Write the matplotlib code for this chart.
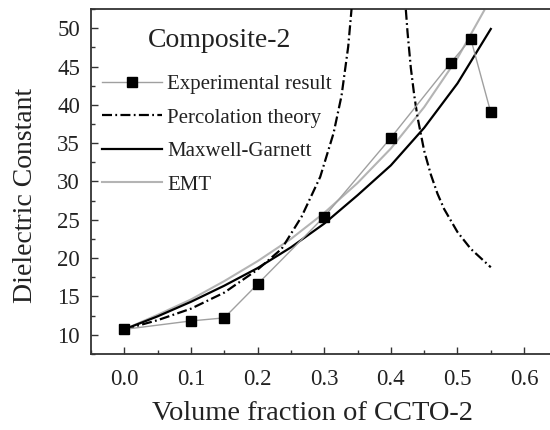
import numpy as np
import matplotlib
matplotlib.use("Agg")
import matplotlib.pyplot as plt
from matplotlib.ticker import MultipleLocator

plt.rcParams['font.family'] = ['Liberation Serif', 'DejaVu Serif']

# Measured dielectric constant vs. CCTO-2 volume fraction
f_exp = [0.0, 0.10, 0.15, 0.20, 0.30, 0.40, 0.49, 0.52, 0.55]
eps_exp = [10.7, 11.8, 12.2, 16.6, 25.4, 35.7, 45.5, 48.6, 39.0]

# Percolation theory, below and above the threshold
f_perc_lo = [0.0, 0.05, 0.10, 0.15, 0.20, 0.236, 0.266, 0.294, 0.314, 0.326, 0.336, 0.341]
eps_perc_lo = [10.7, 11.9, 13.4, 15.5, 18.5, 21.2, 25.4, 30.6, 36.3, 41.2, 47.6, 52.5]
f_perc_hi = [0.4225, 0.425, 0.43, 0.435, 0.44, 0.45, 0.46, 0.47, 0.48, 0.49, 0.50, 0.52, 0.55]
eps_perc_hi = [52.4, 49.5, 44.8, 41.3, 38.4, 34.0, 30.9, 28.4, 26.4, 24.9, 23.4, 21.2, 18.8]

# Maxwell-Garnett model
f_mg = [0.0, 0.05, 0.10, 0.15, 0.20, 0.25, 0.30, 0.35, 0.40, 0.45, 0.50, 0.55]
eps_mg = [10.7, 12.4, 14.3, 16.4, 18.7, 21.4, 24.5, 28.2, 32.1, 37.0, 42.8, 49.9]

# EMT model
f_emt = [0.0, 0.05, 0.10, 0.15, 0.20, 0.25, 0.30, 0.35, 0.40, 0.45, 0.50, 0.54]
eps_emt = [10.7, 12.6, 14.6, 17.0, 19.6, 22.5, 25.9, 29.8, 34.3, 39.7, 46.1, 52.3]

fig = plt.figure(figsize=(5.5, 4.3), dpi=100)
ax = fig.add_axes([0.1655, 0.177, 0.848, 0.802])

dashdot = (0, (4.5, 1.5, 0.8, 1.5))

ax.plot(f_exp, eps_exp, color='#a0a0a0', lw=1.0, marker='s', ms=6.5,
        mfc='black', mec='black', label='Experimental result', zorder=4)
ax.plot(f_perc_lo, eps_perc_lo, color='black', lw=1.6, ls=dashdot,
        label='Percolation theory', zorder=3)
ax.plot(f_perc_hi, eps_perc_hi, color='black', lw=1.6, ls=dashdot, zorder=3)
ax.plot(f_mg, eps_mg, color='black', lw=1.6, label='Maxwell-Garnett', zorder=3)
ax.plot(f_emt, eps_emt, color='#b4b4b4', lw=1.5, label='EMT', zorder=2)

ax.set_xlim(-0.05, 0.65)
ax.set_ylim(7.5, 52.5)
ax.xaxis.set_major_locator(MultipleLocator(0.1))
ax.xaxis.set_minor_locator(MultipleLocator(0.05))
ax.yaxis.set_major_locator(MultipleLocator(5))
ax.yaxis.set_minor_locator(MultipleLocator(2.5))
ax.set_xticks([0.0, 0.1, 0.2, 0.3, 0.4, 0.5, 0.6])
ax.set_xticklabels(['0.0', '0.1', '0.2', '0.3', '0.4', '0.5', '0.6'])
ax.tick_params(which='both', direction='in', colors='#333333', labelcolor='#222222',
               labelsize=16.5, width=1.0)
ax.tick_params(which='major', length=5)
ax.tick_params(axis='x', which='major', pad=11)
ax.tick_params(axis='y', which='major', pad=8)
ax.tick_params(which='minor', length=3)
for sp in ax.spines.values():
    sp.set_linewidth(1.3)
    sp.set_color('#333333')

ax.set_xlabel('Volume fraction of CCTO-2', fontsize=20.5, color='#222222')
ax.set_ylabel('Dielectric Constant', fontsize=20, color='#222222')
ax.xaxis.set_label_coords(0.474, -0.137)
ax.yaxis.set_label_coords(-0.114, 0.46)

ax.text(0.036, 47.5, 'Composite-2', fontsize=20, color='#222222',
        ha='left', va='baseline')

ax.legend(loc='upper left', bbox_to_anchor=(0.023, 0.81), frameon=False,
          fontsize=15, handlelength=2.88, handletextpad=0.25, labelspacing=0.67,
          borderaxespad=0.0, borderpad=0.0, labelcolor='#222222')

fig.savefig('out.png', dpi=100)
